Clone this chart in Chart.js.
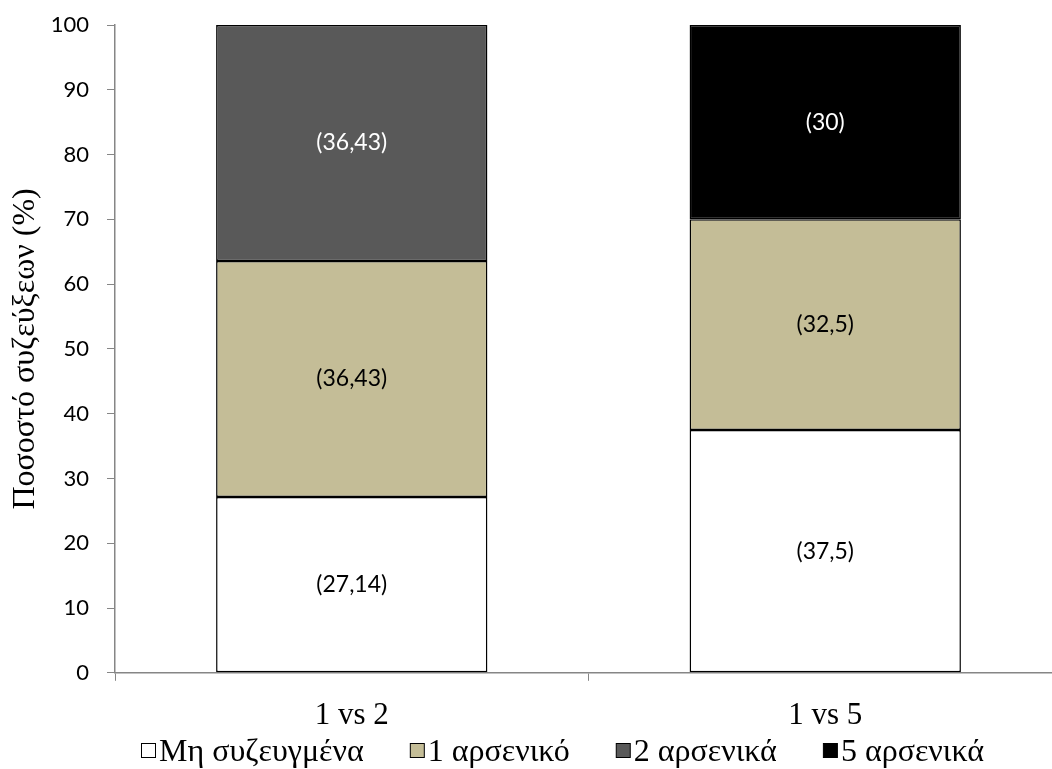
<!DOCTYPE html>
<html>
<head>
<meta charset="utf-8">
<script src="https://cdn.jsdelivr.net/npm/chart.js@4.4.0/dist/chart.umd.min.js"></script>
<style>
  html, body { margin: 0; padding: 0; background: #fff; overflow: hidden; }
  #wrap { width: 1062px; height: 769px; }
</style>
</head>
<body>
<div id="wrap"><canvas id="barChart"></canvas></div>
<script>
var categories = ['1 vs 2', '1 vs 5'];
var seriesNames = ['Μη συζευγμένα', '1 αρσενικό', '2 αρσενικά', '5 αρσενικά'];
var unpaired = [27.14, 37.5];
var oneMale = [36.43, 32.5];
var twoMales = [36.43, null];
var fiveMales = [null, 30];
var labelTexts = [
    ['(27,14)', '(37,5)'],
    ['(36,43)', '(32,5)'],
    ['(36,43)', null],
    [null, '(30)']
];
var yTicks = [0, 10, 20, 30, 40, 50, 60, 70, 80, 90, 100];

var fills = ['#ffffff', '#c4bd97', '#595959', '#000000'];
var textColors = ['#000000', '#000000', '#ffffff', '#ffffff'];

var sansFont = 'Lato, "Open Sans", sans-serif';
var serifFont = '"Liberation Serif", "DejaVu Serif", serif';

// values written inside each stacked segment
var segmentLabels = {
    id: 'segmentLabels',
    afterDatasetsDraw: function (chart) {
        var ctx = chart.ctx;
        ctx.save();
        ctx.font = '23px ' + sansFont;
        ctx.textAlign = 'center';
        ctx.textBaseline = 'middle';
        chart.data.datasets.forEach(function (ds, di) {
            var meta = chart.getDatasetMeta(di);
            meta.data.forEach(function (bar, i) {
                var txt = labelTexts[di][i];
                if (!txt || ds.data[i] == null) return;
                var p = bar.getProps(['x', 'y', 'base'], true);
                ctx.fillStyle = textColors[di];
                ctx.fillText(txt, p.x, (p.y + p.base) / 2);
            });
        });
        ctx.restore();
    }
};

// legend drawn by hand so the box/text spacing matches the original
var bottomLegend = {
    id: 'bottomLegend',
    afterDraw: function (chart) {
        var ctx = chart.ctx;
        var box = 15, boxGap = 3;
        var startX = 141, endX = 984, baseline = 761;
        ctx.save();
        ctx.font = '32px ' + serifFont;
        var widths = chart.data.datasets.map(function (ds) {
            return box + boxGap + ctx.measureText(ds.label).width;
        });
        var used = widths.reduce(function (a, b) { return a + b; }, 0);
        var itemGap = (endX - startX - used) / (widths.length - 1);
        var x = startX;
        ctx.textBaseline = 'alphabetic';
        ctx.textAlign = 'left';
        chart.data.datasets.forEach(function (ds, i) {
            ctx.fillStyle = fills[i];
            ctx.fillRect(x + 0.5, baseline - 17.5, box - 1, box - 1);
            ctx.strokeStyle = '#000';
            ctx.lineWidth = 1;
            ctx.strokeRect(x + 0.5, baseline - 17.5, box - 1, box - 1);
            ctx.fillStyle = '#000';
            ctx.fillText(ds.label, x + box + boxGap, baseline);
            x += widths[i] + itemGap;
        });
        ctx.restore();
    }
};

var barChartElement = document.getElementById('barChart');
var seriesData = [unpaired, oneMale, twoMales, fiveMales];

var barChart = new Chart(barChartElement, {
    type: 'bar',
    data: {
        labels: categories,
        datasets: seriesNames.map(function (name, i) {
            return {
                label: name,
                data: seriesData[i],
                backgroundColor: fills[i],
                borderColor: '#000000',
                borderWidth: 1.5,
                borderSkipped: false,
                categoryPercentage: 0.573,
                barPercentage: 1.0
            };
        })
    },
    options: {
        responsive: true,
        maintainAspectRatio: false,
        animation: false,
        layout: { padding: { top: 25, left: 0, right: 0, bottom: 19 } },
        plugins: {
            tooltip: { enabled: false },
            legend: { display: false }
        },
        scales: {
            x: {
                stacked: true,
                offset: true,
                grid: {
                    offset: true,
                    drawOnChartArea: false,
                    drawTicks: true,
                    tickLength: 8,
                    color: '#868686'
                },
                border: { color: '#868686', width: 1.5 },
                ticks: {
                    color: '#000',
                    font: { family: serifFont, size: 31 },
                    padding: 16
                }
            },
            y: {
                stacked: true,
                min: 0,
                max: 100,
                afterBuildTicks: function (axis) {
                    axis.ticks = yTicks.map(function (v) { return { value: v }; });
                },
                afterFit: function (axis) {
                    axis.width = 115;
                    axis.paddingTop = 0;
                    axis.paddingBottom = 0;
                },
                grid: {
                    drawOnChartArea: false,
                    drawTicks: true,
                    tickLength: 8,
                    color: '#868686'
                },
                border: { color: '#868686', width: 1.5 },
                ticks: {
                    color: '#000',
                    font: { family: sansFont, size: 22 },
                    padding: 18
                },
                title: {
                    display: true,
                    text: 'Ποσοστό συζεύξεων (%)',
                    color: '#000',
                    font: { family: serifFont, size: 32 },
                    padding: { top: 6, bottom: 4 }
                }
            }
        }
    },
    plugins: [segmentLabels, bottomLegend]
});
</script>
</body>
</html>
